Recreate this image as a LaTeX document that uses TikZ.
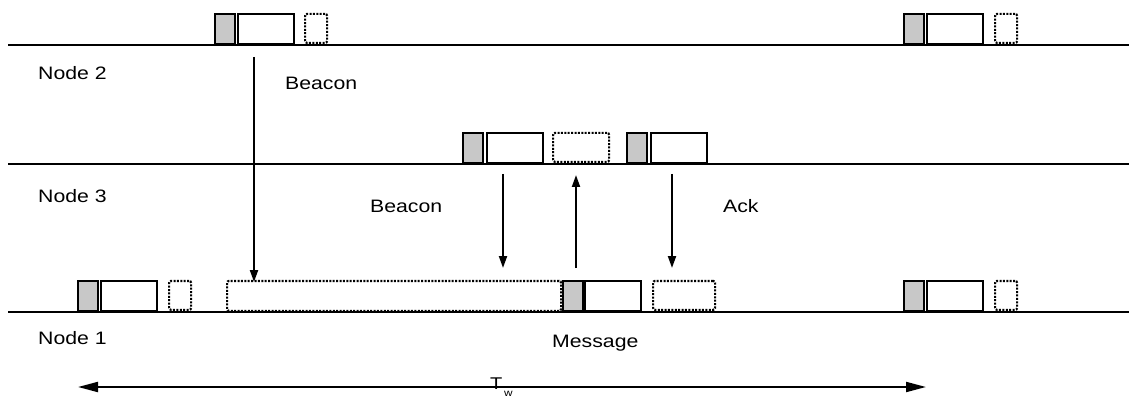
\documentclass[tikz,border=0pt]{standalone}
\usepackage{fontspec}
\setmainfont{Liberation Sans}[FakeStretch=1.18]
\usetikzlibrary{arrows.meta}
\begin{document}
\begin{tikzpicture}[x=1pt,y=-1pt,
  tl/.style={line width=2.2pt},
  gb/.style={draw, line width=2.2pt, fill={rgb,255:red,200;green,200;blue,200}, inner sep=0pt, minimum width=20pt, minimum height=30pt, anchor=south west},
  wb/.style={draw, line width=2.2pt, fill=white, inner sep=0pt, minimum width=56pt, minimum height=30pt, anchor=south west},
  db/.style={draw, line width=2.2pt, dash pattern=on 2pt off 1.4pt, rounded corners=2pt, inner sep=0pt, minimum height=29pt, anchor=south west},
  lbl/.style={anchor=base west, inner sep=0pt, font=\fontsize{18}{20}\selectfont},
  arr/.style={line width=2pt, -{Triangle[length=12pt,width=8pt]}}]
\useasboundingbox (0,0) rectangle (1129,398);
% time lines
\coordinate (l2a) at (8,45); \coordinate (l2b) at (1129,45);
\coordinate (l3a) at (8,164); \coordinate (l3b) at (1129,164);
\coordinate (l1a) at (8,312); \coordinate (l1b) at (1129,312);
\draw[tl] (l2a) -- (l2b);
\draw[tl] (l3a) -- (l3b);
\draw[tl] (l1a) -- (l1b);
% Node 2
\node[gb] (n2g1) at (214,45) {};
\node[wb] (n2w1) at (237,45) {};
\node[db, minimum width=22pt] (n2d1) at (304,44) {};
\node[gb] (n2g2) at (903,45) {};
\node[wb] (n2w2) at (926,45) {};
\node[db, minimum width=22pt] (n2d2) at (994,44) {};
% Node 3
\node[gb] (n3g1) at (462,164) {};
\node[wb] (n3w1) at (486,164) {};
\node[db, minimum width=56pt] (n3d1) at (552,163) {};
\node[gb] (n3g2) at (626,164) {};
\node[wb] (n3w2) at (650,164) {};
% Node 1
\node[db, minimum width=334pt, minimum height=30pt] (n1long) at (226,312) {};
\node[gb] (n1g1) at (77,312) {};
\node[wb] (n1w1) at (100,312) {};
\node[db, minimum width=22pt] (n1d1) at (168,311) {};
\node[gb] (n1g2) at (562,312) {};
\node[wb] (n1w2) at (584,312) {};
\node[db, minimum width=62pt] (n1d2) at (652,311) {};
\node[gb] (n1g3) at (903,312) {};
\node[wb] (n1w3) at (926,312) {};
\node[db, minimum width=22pt] (n1d3) at (994,311) {};
% labels
\node[lbl] (t2) at (38,80) {Node 2};
\node[lbl] (t3) at (38,202) {Node 3};
\node[lbl] (t1) at (38,344) {Node 1};
\node[lbl] (b1) at (285,90) {Beacon};
\node[lbl] (b2) at (370,212) {Beacon};
\node[lbl] (ack) at (723,212) {Ack};
\node[lbl] (msg) at (552,347) {Message};
% arrows
\coordinate (a1s) at (254,57); \coordinate (a1e) at (254,282);
\coordinate (a2s) at (503,174); \coordinate (a2e) at (503,268);
\coordinate (a3s) at (576,268); \coordinate (a3e) at (576,175);
\coordinate (a4s) at (672,174); \coordinate (a4e) at (672,268);
\draw[arr] (a1s) -- (a1e);
\draw[arr] (a2s) -- (a2e);
\draw[arr] (a3s) -- (a3e);
\draw[arr] (a4s) -- (a4e);
% T_w
\coordinate (tws) at (78,387); \coordinate (twe) at (926,387);
\draw[line width=2pt, {Triangle[length=20pt,width=10pt]}-{Triangle[length=20pt,width=10pt]}] (tws) -- (twe);
\node[anchor=base west, inner sep=0pt, font=\fontsize{17}{18}\selectfont] (tw) at (490,389) {T};
\node[anchor=base west, inner sep=0pt, font=\fontsize{10}{11}\selectfont] (tws2) at (504,396) {w};
\end{tikzpicture}
\end{document}
